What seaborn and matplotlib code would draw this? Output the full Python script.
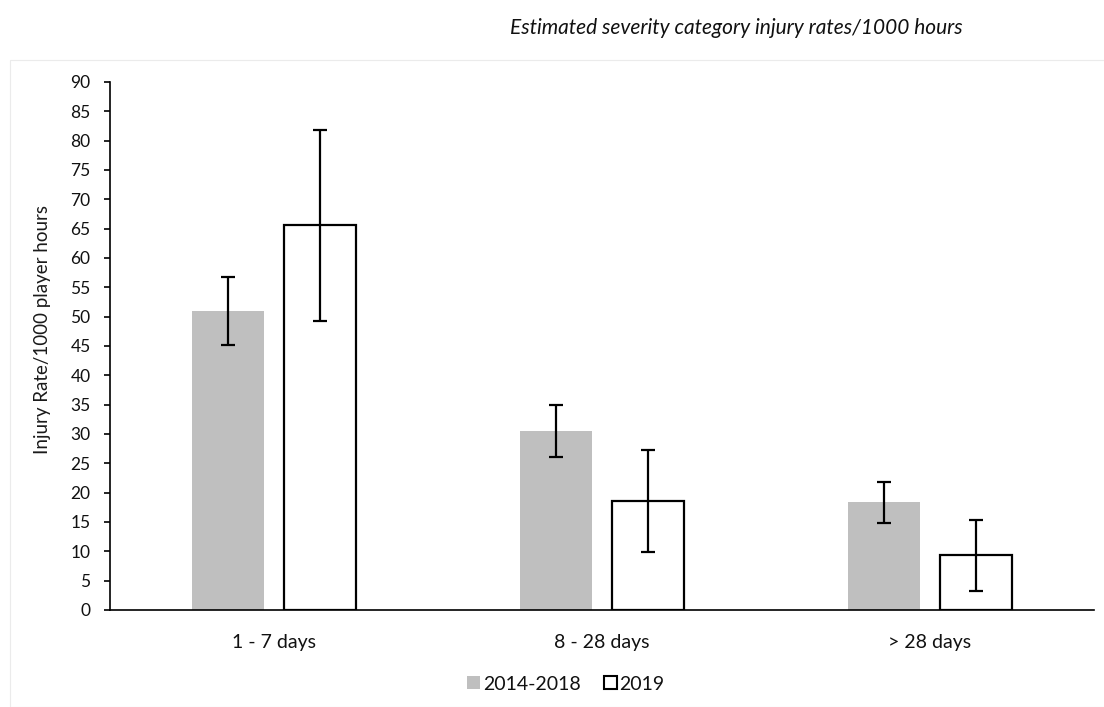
import matplotlib
matplotlib.use("Agg")
import matplotlib.pyplot as plt
from matplotlib.patches import Rectangle, Patch
import seaborn as sns
import pandas as pd
import numpy as np

categories = ["1 - 7 days", "8 - 28 days", "> 28 days"]
series_names = ["2014-2018", "2019"]
rate_2014_2018 = [51.0, 30.5, 18.4]
rate_2019 = [65.6, 18.6, 9.3]
err_low_2014_2018 = [45.2, 26.1, 14.9]
err_high_2014_2018 = [56.8, 35.0, 21.9]
err_low_2019 = [49.3, 9.9, 3.2]
err_high_2019 = [81.8, 27.3, 15.4]
y_ticks = list(range(0, 95, 5))

sns.set_theme(style="white")
plt.rcParams['font.family'] = ['Lato', 'DejaVu Sans']

df = pd.DataFrame({
    "category": categories * 2,
    "period": [series_names[0]] * 3 + [series_names[1]] * 3,
    "rate": rate_2014_2018 + rate_2019,
})

W, H = 1104, 707
fig = plt.figure(figsize=(W / 100, H / 100), dpi=100)
ax = fig.add_axes([110 / W, (H - 610) / H, (1094 - 110) / W, (610 - 82) / H])

palette = {series_names[0]: "#bfbfbf", series_names[1]: "white"}
sns.barplot(data=df, x="category", y="rate", hue="period", order=categories,
            hue_order=series_names, palette=palette, width=0.56, gap=0.21,
            errorbar=None, legend=False, ax=ax, saturation=1)

# style bars and draw error bars
lows = [err_low_2014_2018, err_low_2019]
highs = [err_high_2014_2018, err_high_2019]
vals = [rate_2014_2018, rate_2019]
bar_containers = list(ax.containers)
for i, cont in enumerate(bar_containers):
    xs = []
    for p in cont.patches:
        if i == 0:
            p.set_edgecolor("none")
            p.set_linewidth(0)
        else:
            p.set_edgecolor("black")
            p.set_linewidth(1.6)
        xs.append(p.get_x() + p.get_width() / 2)
    v = np.array(vals[i])
    lo = v - np.array(lows[i])
    hi = np.array(highs[i]) - v
    ax.errorbar(xs, v, yerr=[lo, hi], fmt="none", ecolor="black",
                elinewidth=1.6, capsize=5, capthick=1.6, zorder=5)

ax.set_ylim(0, 90)
ax.set_yticks(y_ticks)
ax.set_xlim(-0.5, 2.5)
ax.set_xlabel("")
ax.set_ylabel("Injury Rate/1000 player hours", fontsize=13.5, color="#1a1a1a")
ax.yaxis.set_label_coords(-59 / 984, (610 - 329) / 528)
for s in ["top", "right"]:
    ax.spines[s].set_visible(False)
for s in ["left", "bottom"]:
    ax.spines[s].set_color("black")
    ax.spines[s].set_linewidth(1.2)
ax.tick_params(axis="y", which="major", left=True, length=4, width=1.2,
               color="black", labelsize=12.5, labelcolor="#111111", pad=10)
ax.tick_params(axis="x", bottom=False, labelsize=14, labelcolor="#111111", pad=11)

# legend
handles = [Patch(facecolor="#bfbfbf", edgecolor="none", label=series_names[0]),
           Patch(facecolor="white", edgecolor="black", linewidth=1.5, label=series_names[1])]
fig.legend(handles=handles, loc="center", bbox_to_anchor=(566 / W, 1 - 684 / H),
           ncol=2, frameon=False, fontsize=14, handlelength=0.65, handleheight=0.65,
           handletextpad=0.15, columnspacing=1.2, labelcolor="#111111")

# title
fig.text(736 / W, 1 - 28 / H, "Estimated severity category injury rates/1000 hours",
         ha="center", va="center", fontsize=15, style="italic", color="#111111")

# faint chart border
fig.patches.append(Rectangle((10 / W, 0), (W + 5) / W, 1 - 60 / H,
                             transform=fig.transFigure, fill=False,
                             edgecolor="#ebebeb", linewidth=0.8))

fig.savefig("out.png", dpi=100)
